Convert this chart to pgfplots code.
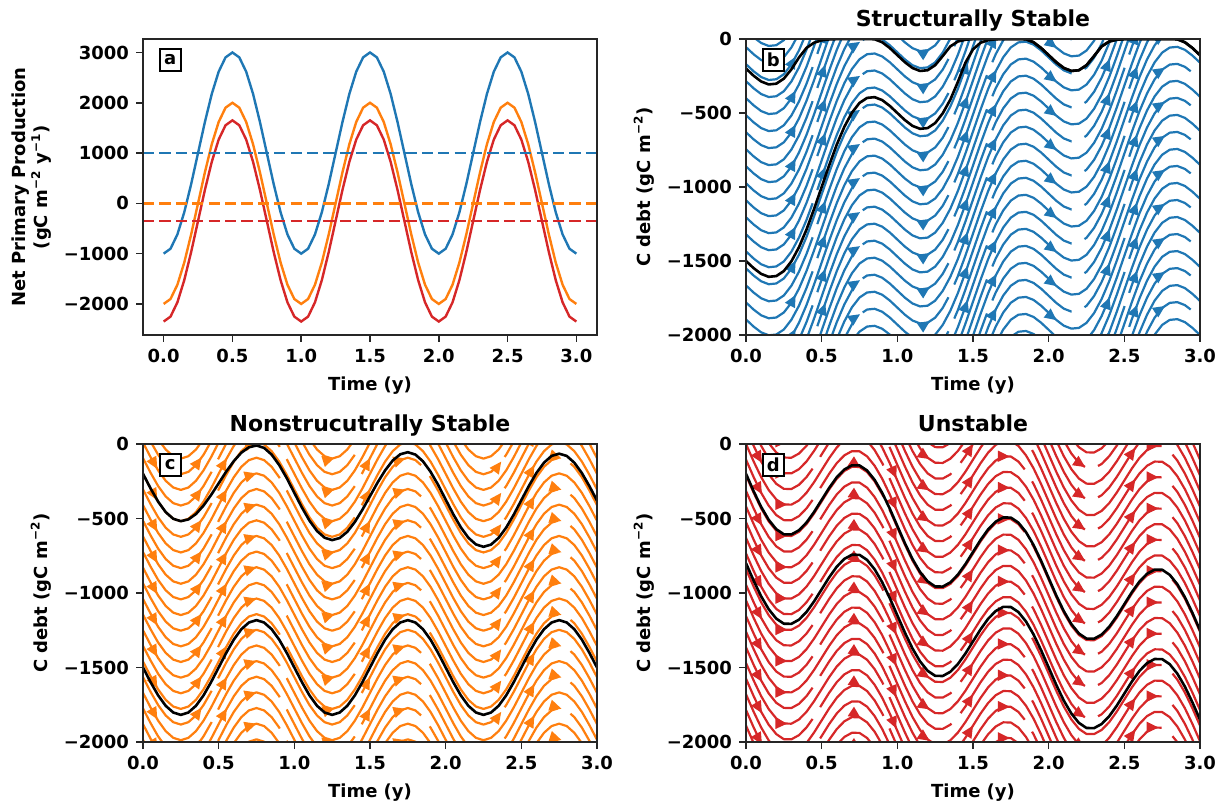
\documentclass[border=0pt]{standalone}
\usepackage{fontspec}
\setmainfont{DejaVu Sans}
\usepackage{pgfplots}
\pgfplotsset{compat=1.18}
\usepackage{pgfplotstable}
\usetikzlibrary{arrows.meta,decorations.markings}
\definecolor{tabblue}{HTML}{1F77B4}
\definecolor{taborange}{HTML}{FF7F0E}
\definecolor{tabred}{HTML}{D62728}

\pgfplotstableread{
t blue orange red
0.00 -1000 -2000 -2350
0.05 -902 -1902 -2252
0.10 -618 -1618 -1968
0.15 -176 -1176 -1526
0.20 382 -618 -968
0.25 1000 0 -350
0.30 1618 618 268
0.35 2176 1176 826
0.40 2618 1618 1268
0.45 2902 1902 1552
0.50 3000 2000 1650
0.55 2902 1902 1552
0.60 2618 1618 1268
0.65 2176 1176 826
0.70 1618 618 268
0.75 1000 0 -350
0.80 382 -618 -968
0.85 -176 -1176 -1526
0.90 -618 -1618 -1968
0.95 -902 -1902 -2252
1.00 -1000 -2000 -2350
1.05 -902 -1902 -2252
1.10 -618 -1618 -1968
1.15 -176 -1176 -1526
1.20 382 -618 -968
1.25 1000 0 -350
1.30 1618 618 268
1.35 2176 1176 826
1.40 2618 1618 1268
1.45 2902 1902 1552
1.50 3000 2000 1650
1.55 2902 1902 1552
1.60 2618 1618 1268
1.65 2176 1176 826
1.70 1618 618 268
1.75 1000 0 -350
1.80 382 -618 -968
1.85 -176 -1176 -1526
1.90 -618 -1618 -1968
1.95 -902 -1902 -2252
2.00 -1000 -2000 -2350
2.05 -902 -1902 -2252
2.10 -618 -1618 -1968
2.15 -176 -1176 -1526
2.20 382 -618 -968
2.25 1000 0 -350
2.30 1618 618 268
2.35 2176 1176 826
2.40 2618 1618 1268
2.45 2902 1902 1552
2.50 3000 2000 1650
2.55 2902 1902 1552
2.60 2618 1618 1268
2.65 2176 1176 826
2.70 1618 618 268
2.75 1000 0 -350
2.80 382 -618 -968
2.85 -176 -1176 -1526
2.90 -618 -1618 -1968
2.95 -902 -1902 -2252
3.00 -1000 -2000 -2350
}\tabA

\pgfplotstableread{
t B up low
0.00 0 -200 -1500
0.05 -48 -248 -1548
0.10 -87 -287 -1587
0.15 -107 -307 -1607
0.20 -102 -302 -1602
0.25 -68 -268 -1568
0.30 -2 -205 -1502
0.35 93 -125 -1407
0.40 213 -60 -1287
0.45 352 -25 -1148
0.50 500 -9 -1000
0.55 648 -3 -852
0.60 787 -1 -713
0.65 907 0 -593
0.70 1002 0 -498
0.75 1068 0 -432
0.80 1102 0 -398
0.85 1107 -2 -393
0.90 1087 -22 -413
0.95 1048 -61 -452
1.00 1000 -109 -500
1.05 952 -157 -548
1.10 913 -196 -587
1.15 893 -216 -607
1.20 898 -211 -602
1.25 932 -177 -568
1.30 998 -115 -502
1.35 1093 -50 -410
1.40 1213 -17 -290
1.45 1352 -5 -160
1.50 1500 -1 -70
1.55 1648 0 -25
1.60 1787 0 -8
1.65 1907 0 -2
1.70 2002 0 0
1.75 2068 0 0
1.80 2102 0 0
1.85 2107 -2 -2
1.90 2087 -22 -22
1.95 2048 -61 -61
2.00 2000 -109 -109
2.05 1952 -157 -157
2.10 1913 -196 -196
2.15 1893 -216 -216
2.20 1898 -211 -211
2.25 1932 -177 -177
2.30 1998 -115 -115
2.35 2093 -50 -50
2.40 2213 -17 -17
2.45 2352 -5 -5
2.50 2500 -1 -1
2.55 2648 0 0
2.60 2787 0 0
2.65 2907 0 0
2.70 3002 0 0
2.75 3068 0 0
2.80 3102 0 0
2.85 3107 -2 -2
2.90 3087 -22 -22
2.95 3048 -61 -61
3.00 3000 -109 -109
}\tabB

\pgfplotstableread{
t S up low
0.00 0 -200 -1500
0.05 -98 -298 -1598
0.10 -187 -387 -1687
0.15 -257 -457 -1757
0.20 -302 -502 -1802
0.25 -318 -518 -1818
0.30 -302 -506 -1802
0.35 -257 -470 -1757
0.40 -187 -413 -1687
0.45 -98 -342 -1598
0.50 0 -264 -1500
0.55 98 -185 -1402
0.60 187 -115 -1313
0.65 257 -58 -1243
0.70 302 -22 -1198
0.75 318 -10 -1182
0.80 302 -26 -1198
0.85 257 -71 -1243
0.90 187 -141 -1313
0.95 98 -229 -1402
1.00 0 -328 -1500
1.05 -98 -426 -1598
1.10 -187 -514 -1687
1.15 -257 -584 -1757
1.20 -302 -629 -1802
1.25 -318 -645 -1818
1.30 -302 -631 -1802
1.35 -257 -589 -1757
1.40 -187 -523 -1687
1.45 -98 -441 -1598
1.50 0 -350 -1500
1.55 98 -259 -1402
1.60 187 -177 -1313
1.65 257 -111 -1243
1.70 302 -69 -1198
1.75 318 -55 -1182
1.80 302 -71 -1198
1.85 257 -116 -1243
1.90 187 -186 -1313
1.95 98 -274 -1402
2.00 0 -373 -1500
2.05 -98 -471 -1598
2.10 -187 -559 -1687
2.15 -257 -629 -1757
2.20 -302 -674 -1802
2.25 -318 -690 -1818
2.30 -302 -675 -1802
2.35 -257 -630 -1757
2.40 -187 -561 -1687
2.45 -98 -474 -1598
2.50 0 -377 -1500
2.55 98 -281 -1402
2.60 187 -194 -1313
2.65 257 -125 -1243
2.70 302 -80 -1198
2.75 318 -65 -1182
2.80 302 -80 -1198
2.85 257 -125 -1243
2.90 187 -195 -1313
2.95 98 -283 -1402
3.00 0 -380 -1500
}\tabC

\pgfplotstableread{
t D up low
0.00 0 -200 -800
0.05 -116 -316 -916
0.10 -222 -422 -1022
0.15 -309 -509 -1109
0.20 -372 -572 -1172
0.25 -406 -606 -1206
0.30 -407 -607 -1207
0.35 -379 -579 -1179
0.40 -327 -527 -1127
0.45 -256 -456 -1056
0.50 -175 -375 -975
0.55 -94 -294 -894
0.60 -23 -223 -823
0.65 29 -171 -771
0.70 57 -143 -743
0.75 56 -144 -744
0.80 22 -178 -778
0.85 -41 -241 -841
0.90 -128 -328 -928
0.95 -234 -434 -1034
1.00 -350 -550 -1150
1.05 -466 -666 -1266
1.10 -572 -772 -1372
1.15 -659 -859 -1459
1.20 -722 -922 -1522
1.25 -756 -956 -1556
1.30 -757 -957 -1557
1.35 -729 -929 -1529
1.40 -677 -877 -1477
1.45 -606 -806 -1406
1.50 -525 -725 -1325
1.55 -444 -644 -1244
1.60 -373 -573 -1173
1.65 -321 -521 -1121
1.70 -293 -493 -1093
1.75 -294 -494 -1094
1.80 -328 -528 -1128
1.85 -391 -591 -1191
1.90 -478 -678 -1278
1.95 -584 -784 -1384
2.00 -700 -900 -1500
2.05 -816 -1016 -1616
2.10 -922 -1122 -1722
2.15 -1009 -1209 -1809
2.20 -1072 -1272 -1872
2.25 -1106 -1306 -1906
2.30 -1107 -1307 -1907
2.35 -1079 -1279 -1879
2.40 -1027 -1227 -1827
2.45 -956 -1156 -1756
2.50 -875 -1075 -1675
2.55 -794 -994 -1594
2.60 -723 -923 -1523
2.65 -671 -871 -1471
2.70 -643 -843 -1443
2.75 -644 -844 -1444
2.80 -678 -878 -1478
2.85 -741 -941 -1541
2.90 -828 -1028 -1628
2.95 -934 -1134 -1734
3.00 -1050 -1250 -1850
}\tabD

\newcommand\lblfont{\fontsize{9}{11}\selectfont\bfseries}
\tikzset{
  arr/.style={postaction={decorate, decoration={markings,
      mark=at position #1 with {\arrow{Triangle[length=6pt,width=5.4pt]}}}}},
  sl/.style={#1, line width=1.1pt, line join=round, dash pattern=on 110pt off 7pt},
  blk/.style={black, line width=1.3pt, line join=round},
  lbl/.style={draw=black, line width=0.9pt, fill=white, inner sep=0pt,
      minimum width=10.5pt, minimum height=11pt, font=\lblfont},
  dsh/.style={#1, line width=1.25pt, dash pattern=on 5.6pt off 2.6pt},
}

\pgfplotsset{
  panel/.style={
    scale only axis, width=227pt, anchor=south west,
    axis line style={line width=0.8pt, black!85},
    every tick/.style={line width=0.8pt, black!85},
    tick align=outside, major tick length=3.5pt, tick pos=left,
    tick label style={font=\lblfont},
    label style={font=\lblfont},
    title style={font=\fontsize{11}{13}\selectfont\bfseries, yshift=-6pt, text depth=2.6pt},
    xtick={0,0.5,1,1.5,2,2.5,3},
    xticklabels={0.0,0.5,1.0,1.5,2.0,2.5,3.0},
    xlabel={Time (y)},
    axis on top,
  },
  dpanel/.style={panel, height=149pt, xmin=0, xmax=3, ymin=-2000, ymax=0,
    ytick={-2000,-1500,-1000,-500,0},
    yticklabels={−2000,−1500,−1000,−500,0},
    ylabel={C debt (gC m\textsuperscript{−2})},
    every axis y label/.style={at={(axis description cs:-0.225,0.5)}, rotate=90, anchor=center, font=\lblfont},
  },
}

\begin{document}
\begin{tikzpicture}
\useasboundingbox (0,0) rectangle (612.5pt,402pt);

% ---------------- panel a
\begin{axis}[panel, at={(71.5pt,234.5pt)}, height=148pt,
  xmin=-0.15, xmax=3.15, ymin=-2617.5, ymax=3267.5,
  ytick={-2000,-1000,0,1000,2000,3000},
  yticklabels={−2000,−1000,0,1000,2000,3000},
  ylabel={Net Primary Production\\(gC m\textsuperscript{−2} y\textsuperscript{−1})},
  every axis y label/.style={at={(axis description cs:-0.245,0.5)}, rotate=90, anchor=center, align=center, font=\lblfont},
]
\addplot[tabblue, line width=1.2pt] table[x=t, y=blue] {\tabA};
\addplot[taborange, line width=1.2pt] table[x=t, y=orange] {\tabA};
\addplot[tabred, line width=1.2pt] table[x=t, y=red] {\tabA};
\addplot[dsh=tabblue] coordinates {(-0.15,1000) (3.15,1000)};
\addplot[dsh=taborange] coordinates {(-0.15,0) (3.15,0)};
\addplot[dsh=tabred] coordinates {(-0.15,-350) (3.15,-350)};
\node[lbl] at (rel axis cs:0.06,0.93) {a};
\end{axis}

% ---------------- panel b
\begin{axis}[dpanel, at={(373pt,234.5pt)}, height=148pt, title={Structurally Stable}]
\pgfplotsinvokeforeach{-5000,-4770,...,140}{
  \addplot[sl=tabblue, arr=0.08, arr=0.28, arr=0.48, arr=0.68, arr=0.88] table[x=t, y expr=\thisrow{B}+#1] {\tabB};
}
\pgfplotsinvokeforeach{-4885,-4655,...,140}{
  \addplot[sl=tabblue, dash phase=55pt, arr=0.18, arr=0.38, arr=0.58, arr=0.78, arr=0.95] table[x=t, y expr=\thisrow{B}+#1] {\tabB};
}
\addplot[blk] table[x=t, y=up] {\tabB};
\addplot[blk] table[x=t, y=low] {\tabB};
\node[lbl] at (rel axis cs:0.06,0.93) {b};
\end{axis}

% ---------------- panel c
\begin{axis}[dpanel, at={(71.5pt,31pt)}, title={Nonstrucutrally Stable}]
\pgfplotsinvokeforeach{-2300,-2090,...,320}{
  \addplot[sl=taborange, arr=0.04, arr=0.19, arr=0.42, arr=0.58, arr=0.92] table[x=t, y expr=\thisrow{S}+#1] {\tabC};
}
\pgfplotsinvokeforeach{-2195,-1985,...,320}{
  \addplot[sl=taborange, dash phase=55pt, arr=0.12, arr=0.25, arr=0.5, arr=0.78, arr=0.87] table[x=t, y expr=\thisrow{S}+#1] {\tabC};
}
\addplot[blk] table[x=t, y=up] {\tabC};
\addplot[blk] table[x=t, y=low] {\tabC};
\node[lbl] at (rel axis cs:0.06,0.93) {c};
\end{axis}

% ---------------- panel d
\begin{axis}[dpanel, at={(373pt,31pt)}, title={Unstable}]
\pgfplotsinvokeforeach{-2100,-1890,...,1120}{
  \addplot[sl=tabred, arr=0.1, arr=0.24, arr=0.42, arr=0.57, arr=0.9] table[x=t, y expr=\thisrow{D}+#1] {\tabD};
}
\pgfplotsinvokeforeach{-1995,-1785,...,1120}{
  \addplot[sl=tabred, dash phase=55pt, arr=0.05, arr=0.33, arr=0.5, arr=0.76, arr=0.86] table[x=t, y expr=\thisrow{D}+#1] {\tabD};
}
\addplot[blk] table[x=t, y=up] {\tabD};
\addplot[blk] table[x=t, y=low] {\tabD};
\node[lbl] at (rel axis cs:0.06,0.93) {d};
\end{axis}
\end{tikzpicture}
\end{document}
